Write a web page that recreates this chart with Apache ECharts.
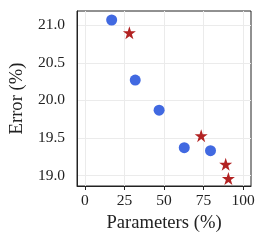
<!DOCTYPE html>
<html><head><meta charset="utf-8">
<script src="https://cdn.jsdelivr.net/npm/echarts@6/dist/echarts.min.js"></script>
<style>html,body{margin:0;padding:0;background:#fff}#c{width:266px;height:247px}</style>
</head><body><div id="c"></div>
<script>
const circleX = [16.9, 31.8, 46.9, 62.8, 79.4];
const circleY = [21.07, 20.27, 19.87, 19.37, 19.33];
const starX = [28.1, 73.5, 89.0, 90.7];
const starY = [20.90, 19.53, 19.15, 18.96];
const xTicks = [0, 25, 50, 75, 100];
const yTicks = [19.0, 19.5, 20.0, 20.5, 21.0];

const font = 'Liberation Serif';
const chart = echarts.init(document.getElementById('c'), null, {renderer: 'canvas'});
chart.setOption({
  animation: false,
  grid: {left: 74, top: 11, right: 15, bottom: 61, show: true, borderColor: '#222', borderWidth: 1},
  xAxis: {
    type: 'value', min: -5, max: 105,
    name: 'Parameters (%)', nameLocation: 'middle', nameGap: 27,
    nameTextStyle: {fontFamily: font, fontSize: 18.6, color: '#222'},
    axisLine: {show: true, onZero: false, lineStyle: {color: '#222', width: 1}},
    axisTick: {show: true, customValues: xTicks, length: 4, lineStyle: {color: '#222'}},
    axisLabel: {customValues: xTicks, fontFamily: font, fontSize: 15.5, color: '#222', margin: 7},
    splitLine: {show: true, lineStyle: {color: '#ebebeb', width: 1}}
  },
  yAxis: {
    type: 'value', min: 18.86, max: 21.19,
    name: 'Error (%)', nameLocation: 'middle', nameGap: 45, nameRotate: 90,
    nameTextStyle: {fontFamily: font, fontSize: 18.6, color: '#222'},
    axisLine: {show: true, onZero: false, lineStyle: {color: '#222', width: 1}},
    axisTick: {show: false, customValues: yTicks},
    axisLabel: {customValues: yTicks, fontFamily: font, fontSize: 15.5, color: '#222', margin: 12,
      formatter: v => v.toFixed(1)},
    splitLine: {show: true, lineStyle: {color: '#ebebeb', width: 1}}
  },
  series: [
    {type: 'scatter', symbol: 'circle', symbolSize: 11,
     itemStyle: {color: '#4169E1', opacity: 1},
     data: circleX.map((x, i) => [x, circleY[i]])},
    {type: 'scatter', symbol: 'path://M50,0 L61.8,35.4 L99,35.4 L69,57.3 L80.4,92.7 L50,70.8 L19.6,92.7 L31,57.3 L1,35.4 L38.2,35.4 Z', symbolSize: 13,
     itemStyle: {color: '#B22222', opacity: 1},
     data: starX.map((x, i) => [x, starY[i]])}
  ]
});
</script></body></html>
